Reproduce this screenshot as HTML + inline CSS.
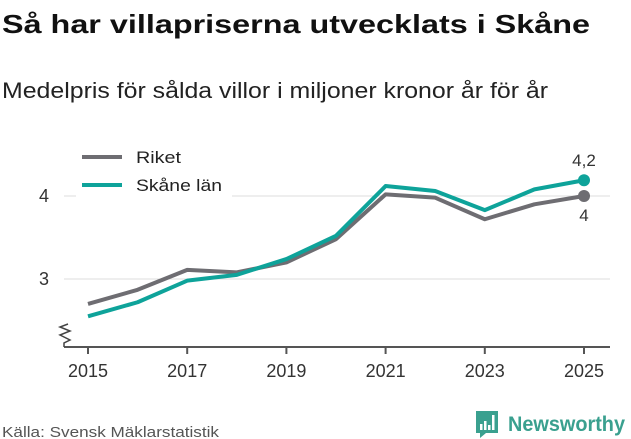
<!DOCTYPE html>
<html><head><meta charset="utf-8"><style>
body{margin:0;width:631px;height:439px;background:#fff;overflow:hidden;font-family:"Liberation Sans",sans-serif;}
</style></head><body>
<svg width="631" height="439" style="position:absolute;left:0;top:0">
<text x="2" y="33" font-size="26" font-weight="bold" fill="#111" textLength="588" lengthAdjust="spacingAndGlyphs">Så har villapriserna utvecklats i Skåne</text>
<text x="2" y="98" font-size="22" fill="#222" textLength="546" lengthAdjust="spacingAndGlyphs">Medelpris för sålda villor i miljoner kronor år för år</text>
<g id="grid"></g>
<g id="axis"></g>
<g id="series"></g>
<g>
<rect x="76" y="142" width="156" height="58" fill="#fff"/>
<line x1="82" y1="157" x2="122" y2="157" stroke="#6e6d72" stroke-width="4"/>
<text x="136" y="163" font-size="17" fill="#222" textLength="45" lengthAdjust="spacingAndGlyphs">Riket</text>
<line x1="82" y1="185" x2="122" y2="185" stroke="#0ea39a" stroke-width="4"/>
<text x="136" y="191" font-size="17" fill="#222" textLength="86" lengthAdjust="spacingAndGlyphs">Skåne län</text>
</g>
<text x="2" y="437" font-size="15" fill="#555" textLength="217" lengthAdjust="spacingAndGlyphs">Källa: Svensk Mäklarstatistik</text>
<g>
<path d="M476 411h22v22h-12l-6 5v-5h-4z" fill="#3aa08f"/>
<rect x="480" y="424" width="2.5" height="6" fill="#fff"/><rect x="484" y="421" width="2.5" height="9" fill="#fff"/><rect x="488" y="425" width="2.5" height="5" fill="#fff"/><rect x="492" y="415" width="2.5" height="15" fill="#fff"/>
<text x="508" y="431" font-size="21" font-weight="bold" fill="#3aa08f" textLength="117" lengthAdjust="spacingAndGlyphs">Newsworthy</text>
</g>
</svg>
<script>
const years=[2015,2016,2017,2018,2019,2020,2021,2022,2023,2024,2025];
const riket=[2.70,2.87,3.11,3.08,3.20,3.48,4.02,3.98,3.72,3.90,4.0];
const skane=[2.55,2.72,2.98,3.05,3.24,3.52,4.12,4.06,3.83,4.08,4.19];
const yTicks=[3,4];
const xTicks=[2015,2017,2019,2021,2023,2025];
const ns="http://www.w3.org/2000/svg";
const x=v=>88+(v-2015)*49.6;
const y=v=>279-(v-3)*83;
function mk(p,t,a){const e=document.createElementNS(ns,t);for(const k in a)e.setAttribute(k,a[k]);p.appendChild(e);return e;}
const grid=document.getElementById('grid'),axis=document.getElementById('axis'),ser=document.getElementById('series');
yTicks.forEach(v=>{
 const l=mk(grid,'line',{x1:64,x2:610,y1:y(v),y2:y(v),stroke:'#ddd','stroke-width':1});
 
 
 const t=mk(axis,'text',{x:49,y:y(v)+6,'font-size':18,fill:'#333','text-anchor':'end'});t.textContent=v;
 
 
});
const ax=mk(axis,'line',{x1:64,x2:610,y1:347,y2:347,stroke:'#555','stroke-width':2});


const zz=mk(axis,'polyline',{points:'64,347 64,343 70,340 60,335 70,331 60,327 68,324',fill:'none',stroke:'#444','stroke-width':1.5});


xTicks.forEach(v=>{
 mk(axis,'line',{x1:x(v),x2:x(v),y1:347,y2:354,stroke:'#555','stroke-width':2});
 const t=mk(axis,'text',{x:x(v),y:377,'font-size':18,fill:'#333','text-anchor':'middle'});t.textContent=v;
 
 
});
function line(vals,col,name){
 const p=mk(ser,'polyline',{points:vals.map((v,i)=>x(years[i])+','+y(v)).join(' '),fill:'none',stroke:col,'stroke-width':4,'stroke-linejoin':'round'});
 
 
 const n=vals.length-1;
 const c=mk(ser,'circle',{cx:x(years[n]),cy:y(vals[n]),r:6,fill:col});
 
 
}
line(riket,'#6e6d72','riket');
line(skane,'#0ea39a','skane');
const n=years.length-1;
const l1=mk(ser,'text',{x:x(years[n]),y:y(skane[n])-14,'font-size':17,fill:'#333','text-anchor':'middle'});l1.textContent=String(skane[n].toFixed(1)).replace('.',',');


const l2=mk(ser,'text',{x:x(years[n]),y:y(riket[n])+25,'font-size':17,fill:'#333','text-anchor':'middle'});l2.textContent=String(+riket[n].toFixed(1)).replace('.',',');


</script>
</body></html>
